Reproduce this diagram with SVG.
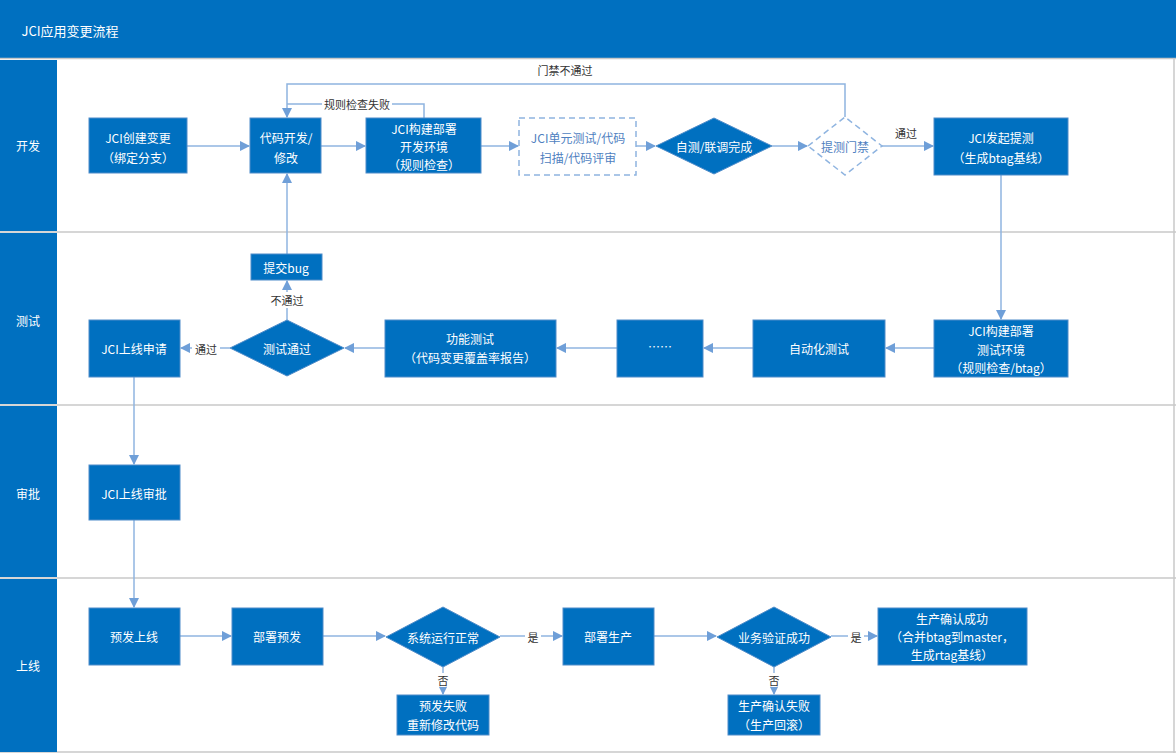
<svg xmlns="http://www.w3.org/2000/svg" width="1176" height="753" viewBox="0 0 1176 753">
<style>
text{font-family:"Noto Sans CJK SC","Noto Sans",sans-serif;font-size:12px;fill:#fff;text-anchor:middle;dominant-baseline:central}
.b{fill:#0070c0;stroke:#4f8cc9;stroke-width:1}
.l{fill:#333;font-size:11px}
.c path{fill:none;stroke:#8fb4e0;stroke-width:1.5}
.lane{fill:#0070c0}
</style>
<defs><marker id="a" viewBox="0 0 10 10" refX="9" refY="5" markerWidth="7" markerHeight="7" orient="auto"><path d="M0,0L10,5L0,10z" fill="#6f9fd8"/></marker></defs>
<rect width="1176" height="753" fill="#fff"/>
<rect x="0" y="0" width="1176" height="58" class="lane"/>
<text x="70" y="30" style="font-size:13px">JCI应用变更流程</text>
<g stroke="#c8c8c8" stroke-width="1.5">
<line x1="0" y1="58.5" x2="1176" y2="58.5"/><line x1="0" y1="232" x2="1176" y2="232"/><line x1="0" y1="405" x2="1176" y2="405"/><line x1="0" y1="578" x2="1176" y2="578"/><line x1="1174" y1="58" x2="1174" y2="753"/><line x1="0" y1="752" x2="1176" y2="752"/>
</g>
<rect x="0" y="60" width="57" height="171" class="lane"/><rect x="0" y="233" width="57" height="171" class="lane"/><rect x="0" y="406" width="57" height="171" class="lane"/><rect x="0" y="579" width="57" height="173" class="lane"/>
<text x="28" y="145">开发</text><text x="28" y="320">测试</text><text x="28" y="493">审批</text><text x="28" y="665">上线</text>
<g class="c">
<path d="M187,146H249" marker-end="url(#a)"/>
<path d="M321,146H365" marker-end="url(#a)"/>
<path d="M481,146H518" marker-end="url(#a)"/>
<path d="M636,146H655" marker-end="url(#a)"/>
<path d="M772,146H807" marker-end="url(#a)"/>
<path d="M882,146H933" marker-end="url(#a)"/>
<path d="M845,117V84H287V117" marker-end="url(#a)"/>
<path d="M424,118V104H287"/>
<path d="M1001,175V319" marker-end="url(#a)"/>
<path d="M934,348H886" marker-end="url(#a)"/>
<path d="M753,348H704" marker-end="url(#a)"/>
<path d="M617,348H557" marker-end="url(#a)"/>
<path d="M385,348H345" marker-end="url(#a)"/>
<path d="M230,348H181" marker-end="url(#a)"/>
<path d="M287,320V281" marker-end="url(#a)"/>
<path d="M287,254V174" marker-end="url(#a)"/>
<path d="M134,377V464" marker-end="url(#a)"/>
<path d="M134,520V607" marker-end="url(#a)"/>
<path d="M180,636H231" marker-end="url(#a)"/>
<path d="M323,636H385" marker-end="url(#a)"/>
<path d="M500,636H562" marker-end="url(#a)"/>
<path d="M654,636H716" marker-end="url(#a)"/>
<path d="M831,636H877" marker-end="url(#a)"/>
<path d="M443,667V694" marker-end="url(#a)"/>
<path d="M774,667V694" marker-end="url(#a)"/>
</g>
<g>
<rect x="530" y="62" width="70" height="16" fill="#fff"/><text class="l" x="565" y="70">门禁不通过</text>
<rect x="322" y="97" width="70" height="14" fill="#fff"/><text class="l" x="357" y="104">规则检查失败</text>
<text class="l" x="906" y="133">通过</text>
<rect x="268" y="292" width="38" height="16" fill="#fff"/><text class="l" x="287" y="300">不通过</text>
<rect x="192" y="341" width="28" height="16" fill="#fff"/><text class="l" x="206" y="349">通过</text>
<rect x="525" y="629" width="16" height="16" fill="#fff"/><text class="l" x="533" y="637">是</text>
<rect x="848" y="629" width="16" height="16" fill="#fff"/><text class="l" x="856" y="637">是</text>
<rect x="436" y="673" width="14" height="14" fill="#fff"/><text class="l" x="443" y="680">否</text>
<rect x="767" y="673" width="14" height="14" fill="#fff"/><text class="l" x="774" y="680">否</text>
</g>
<g id="n1"><rect class="b" x="89" y="118" width="98" height="55"/><text x="138" y="137">JCI创建变更</text><text x="138" y="157">（绑定分支）</text></g>
<g id="n2"><rect class="b" x="250" y="118" width="71" height="55"/><text x="286" y="137">代码开发/</text><text x="286" y="157">修改</text></g>
<g id="n3"><rect class="b" x="366" y="118" width="115" height="55"/><text x="424" y="128">JCI构建部署</text><text x="424" y="146">开发环境</text><text x="424" y="164">（规则检查）</text></g>
<g id="n4"><rect x="519" y="118" width="117" height="57" fill="#fff" stroke="#8fb4e0" stroke-width="1.5" stroke-dasharray="6,4"/><text x="578" y="137" fill="#4a7fc0" style="fill:#4f7fbf">JCI单元测试/代码</text><text x="578" y="157" style="fill:#4f7fbf">扫描/代码评审</text></g>
<g id="n5"><path class="b" d="M656,146L714,118L772,146L714,174z"/><text x="714" y="146">自测/联调完成</text></g>
<g id="n6"><path d="M808,146L845,117L882,146L845,175z" fill="#fff" stroke="#8fb4e0" stroke-width="1.5" stroke-dasharray="6,4"/><text x="845" y="146" style="fill:#4f7fbf">提测门禁</text></g>
<g id="n7"><rect class="b" x="934" y="118" width="134" height="57"/><text x="1001" y="137">JCI发起提测</text><text x="1001" y="157">（生成btag基线）</text></g>
<g id="n8"><rect class="b" x="934" y="320" width="134" height="57"/><text x="1001" y="330">JCI构建部署</text><text x="1001" y="349">测试环境</text><text x="1001" y="367">（规则检查/btag）</text></g>
<g id="n9"><rect class="b" x="753" y="320" width="132" height="57"/><text x="819" y="348">自动化测试</text></g>
<g id="n10"><rect class="b" x="617" y="320" width="86" height="57"/><text x="660" y="346">……</text></g>
<g id="n11"><rect class="b" x="385" y="320" width="171" height="57"/><text x="470" y="338">功能测试</text><text x="470" y="357">（代码变更覆盖率报告）</text></g>
<g id="n12"><path class="b" d="M230,348L287,320L344,348L287,376z"/><text x="287" y="348">测试通过</text></g>
<g id="n13"><rect class="b" x="89" y="320" width="91" height="57"/><text x="134" y="348">JCI上线申请</text></g>
<g id="n14"><rect class="b" x="251" y="254" width="71" height="26"/><text x="286" y="267">提交bug</text></g>
<g id="n15"><rect class="b" x="89" y="465" width="91" height="55"/><text x="134" y="493">JCI上线审批</text></g>
<g id="n16"><rect class="b" x="89" y="608" width="91" height="57"/><text x="134" y="636">预发上线</text></g>
<g id="n17"><rect class="b" x="232" y="608" width="91" height="57"/><text x="277" y="636">部署预发</text></g>
<g id="n18"><path class="b" d="M386,637L443,607L500,637L443,667z"/><text x="443" y="637">系统运行正常</text></g>
<g id="n19"><rect class="b" x="563" y="608" width="91" height="57"/><text x="608" y="636">部署生产</text></g>
<g id="n20"><path class="b" d="M717,637L774,607L831,637L774,667z"/><text x="774" y="637">业务验证成功</text></g>
<g id="n21"><rect class="b" x="878" y="608" width="149" height="57"/><text x="952" y="618">生产确认成功</text><text x="952" y="636">（合并btag到master，</text><text x="952" y="654">生成rtag基线）</text></g>
<g id="n22"><rect class="b" x="397" y="695" width="92" height="40"/><text x="443" y="705">预发失败</text><text x="443" y="724">重新修改代码</text></g>
<g id="n23"><rect class="b" x="728" y="695" width="92" height="40"/><text x="774" y="705">生产确认失败</text><text x="774" y="724">（生产回滚）</text></g>
</svg>
